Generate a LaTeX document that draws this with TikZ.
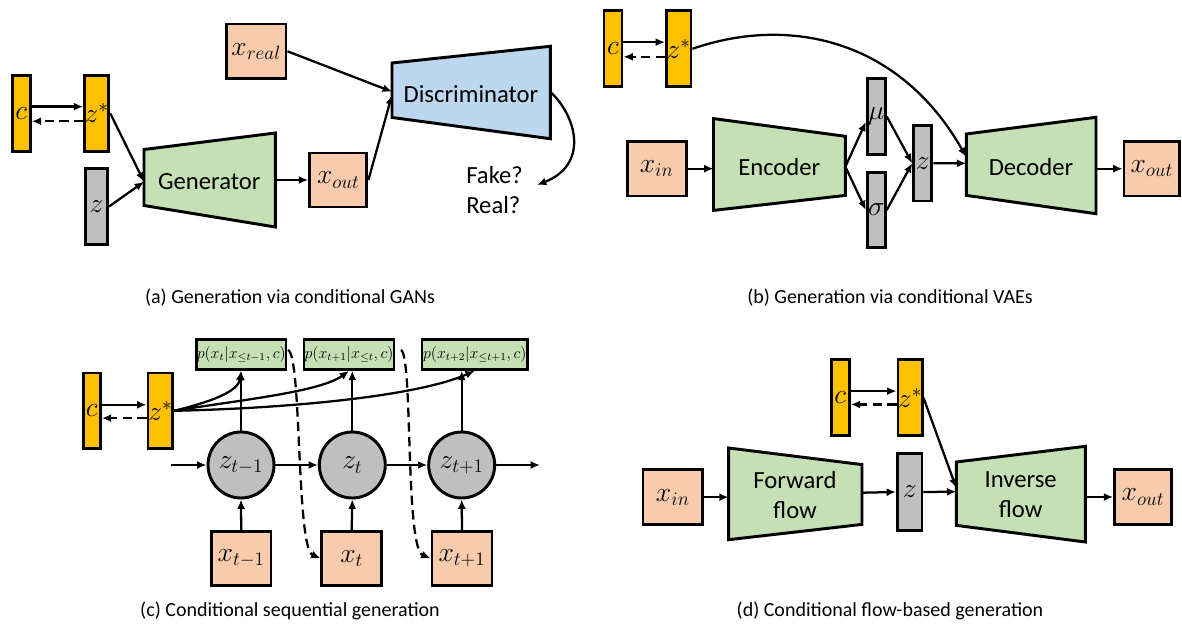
\documentclass[tikz,border=0pt]{standalone}
\usepackage{fontspec}
\setmainfont{Carlito}
\usetikzlibrary{arrows.meta,calc}
\newdimen\pxu \pxu=0.75pt
\definecolor{gold}{HTML}{FFC000}
\definecolor{peach}{HTML}{F8CBAD}
\definecolor{lgreen}{HTML}{C5E0B4}
\definecolor{lblue}{HTML}{BDD7EE}
\definecolor{lgray}{HTML}{BFBFBF}
\tikzset{
  bx/.style={draw=black, line width=2.2pt, inner sep=0pt, font=\fontsize{21}{24}\selectfont},
  wd/.style={minimum width=#1\pxu},
  ht/.style={minimum height=#1\pxu},
  goldb/.style={bx, fill=gold},
  grayb/.style={bx, fill=lgray},
  peachb/.style={bx, fill=peach},
  pbox/.style={bx, fill=lgreen, font=\fontsize{12}{14}\selectfont},
  circ/.style={circle, draw=black, line width=2.2pt, fill=lgray, minimum size=66\pxu, inner sep=0pt, font=\fontsize{22}{24}\selectfont},
  bigx/.style={bx, fill=peach, font=\fontsize{22}{24}\selectfont},
  tz/.style={draw=black, line width=2.2pt, line join=miter},
  lbl/.style={font=\fontsize{18.5}{22.5}\selectfont, align=center, inner sep=0pt},
  captxt/.style={font=\fontsize{15}{17}\selectfont, inner sep=0pt},
  arr/.style={line width=1.7pt, -{Latex[length=7pt,width=6pt]}},
  darr/.style={arr, dash pattern=on 7pt off 4pt},
}
\begin{document}
\begin{tikzpicture}[x=0.75pt,y=-0.75pt]
\useasboundingbox (0,0) rectangle (1182,631);

%%%%%%%% (a)
\node[goldb, wd=18.3, ht=76] (ac) at (21.2,113.3) {$c$};
\node[goldb, wd=22.6, ht=76] (azs) at (96.7,113.3) {$z^*$};
\node[grayb, wd=22.3, ht=76.3] (az) at (96.5,206.5) {$z$};
\node[peachb, wd=57.3, ht=54] (axout) at (338.3,180) {$x_{out}$};
\node[peachb, wd=59.6, ht=54.6] (axreal) at (256.2,51.3) {$x_{real}$};
\draw[tz, fill=lgreen] (144,149.5) -- (275.3,133) -- (275.3,227) -- (144,205.5) -- cycle;
\node[lbl] (gen) at (209.3,181.7) {Generator};
\draw[tz, fill=lblue] (392,63) -- (550.3,46.3) -- (550.3,138.7) -- (392,117.5) -- cycle;
\node[lbl] (disc) at (471,94) {Discriminator};
\node[lbl, align=left, anchor=west] (fr) at (466,190) {Fake?\\Real?};
\coordinate (genL) at (144,181.7);
\coordinate (genR) at (275.3,180);
\coordinate (discL1) at (392,91.7);
\coordinate (discL2) at (392,95);
\coordinate (discR) at (550.3,91.7);
\coordinate (frT) at (537,185);
\draw[arr] ([yshift=5pt]ac.east) -- ([yshift=5pt]azs.west);
\draw[darr] ([yshift=-6pt]azs.west) -- ([yshift=-6pt]ac.east);
\draw[arr] (azs.east) -- (genL);
\draw[arr] (az.east) -- (genL);
\draw[arr] (genR) -- (axout.west);
\draw[arr] (axout.east) -- (discL2);
\draw[arr] (axreal.east) -- (discL1);
\draw[arr] (discR) .. controls (578,118) and (588,165) .. (frT);
\node[captxt] (capa) at (290,298) {(a) Generation via conditional GANs};

%%%%%%%% (b)
\node[goldb, wd=18, ht=76.3] (bc) at (613,48.8) {$c$};
\node[goldb, wd=24.6, ht=76.3] (bzs) at (678.7,48.8) {$z^*$};
\node[peachb, wd=59.3, ht=54.6] (bxin) at (656.7,168.7) {$x_{in}$};
\draw[tz, fill=lgreen] (713.5,118.6) -- (845.4,136.3) -- (845.4,195.4) -- (713.5,210.4) -- cycle;
\node[lbl] (enc) at (779.3,166.7) {Encoder};
\node[grayb, wd=18, ht=75.7] (bmu) at (876.3,116.5) {$\mu$};
\node[grayb, wd=18, ht=75.7] (bsig) at (876.3,210) {$\sigma$};
\node[grayb, wd=18.3, ht=75.6] (bz) at (922.8,163.2) {$z$};
\draw[tz, fill=lgreen] (966.3,134) -- (1096,117.3) -- (1096,213.7) -- (966.3,195.4) -- cycle;
\node[lbl] (dec) at (1031,166.7) {Decoder};
\node[peachb, wd=55.6, ht=54.6] (bxout) at (1151.8,168.7) {$x_{out}$};
\coordinate (encL) at (713.5,168.7);
\coordinate (encR) at (845.4,166.7);
\coordinate (decL) at (966.3,163.3);
\coordinate (decL2) at (966.3,157);
\coordinate (decR) at (1096,168.7);
\draw[arr] ([yshift=5pt]bc.east) -- ([yshift=5pt]bzs.west);
\draw[darr] ([yshift=-6pt]bzs.west) -- ([yshift=-6pt]bc.east);
\draw[arr] (bxin.east) -- (encL);
\draw[arr] (encR) -- ([yshift=-4pt]bmu.west);
\draw[arr] (encR) -- (bsig.west);
\draw[arr] (bmu.east) -- (bz.west);
\draw[arr] (bsig.east) -- (bz.west);
\draw[arr] (bz.east) -- (decL);
\draw[arr] (decR) -- (bxout.west);
\draw[arr] (bzs.east) .. controls (790,15) and (900,40) .. (decL2);
\node[captxt] (capb) at (890,298) {(b) Generation via conditional VAEs};

%%%%%%%% (c)
\node[goldb, wd=17.3, ht=75.6] (cc) at (91.7,410.8) {$c$};
\node[goldb, wd=24.6, ht=75.6] (czs) at (160.3,410.8) {$z^*$};
\node[pbox, wd=89.6, ht=29.7] (p1) at (241.2,354.5) {$p(x_t|x_{\leq t-1},c)$};
\node[pbox, wd=90, ht=29.7] (p2) at (349,354.5) {$p(x_{t+1}|x_{\leq t},c)$};
\node[pbox, wd=105.6, ht=29.7] (p3) at (474.8,354.5) {$p(x_{t+2}|x_{\leq t+1},c)$};
\node[circ] (z1) at (241,465) {$z_{t-1}$};
\node[circ] (z2) at (352.3,465) {$z_{t}$};
\node[circ] (z3) at (461.7,465) {$z_{t+1}$};
\node[bigx, wd=59.6, ht=54] (xb1) at (241.2,558.3) {$x_{t-1}$};
\node[bigx, wd=59.6, ht=54] (xb2) at (351.7,558.3) {$x_{t}$};
\node[bigx, wd=60, ht=54] (xb3) at (462,558.3) {$x_{t+1}$};
\coordinate (hin) at (170.7,465);
\coordinate (hout) at (540,465);
\coordinate (d1s) at (288,350);
\coordinate (d2s) at (401,350);
\draw[arr] ([yshift=4.5pt]cc.east) -- ([yshift=4.5pt]czs.west);
\draw[darr] ([yshift=-5.5pt]czs.west) -- ([yshift=-5.5pt]cc.east);
\draw[arr] (hin) -- (z1.west);
\draw[arr] (z1.east) -- (z2.west);
\draw[arr] (z2.east) -- (z3.west);
\draw[arr] (z3.east) -- (hout);
\draw[arr] (xb1.north) -- (z1.south);
\draw[arr] (xb2.north) -- (z2.south);
\draw[arr] (xb3.north) -- (z3.south);
\draw[arr] (z1.north) -- (z1.north |- p1.south);
\draw[arr] (z2.north) -- (z2.north |- p2.south);
\draw[arr] (z3.north) -- (z3.north |- p3.south);
\draw[arr] (czs.east) .. controls (210,402) and (238,392) .. (p1.south);
\draw[arr] (czs.east) .. controls (240,400) and (320,392) .. (p2.south);
\draw[arr] (czs.east) .. controls (300,408) and (420,395) .. (p3.south);
\draw[darr] (d1s) .. controls (302,355) and (296,548) .. (xb2.west);
\draw[darr] (d2s) .. controls (413,355) and (405,548) .. (xb3.west);
\node[captxt] (capc) at (290,611) {(c) Conditional sequential generation};

%%%%%%%% (d)
\node[goldb, wd=18, ht=76.3] (dc) at (840.3,397.8) {$c$};
\node[goldb, wd=24, ht=76.3] (dzs) at (910,397.8) {$z^*$};
\node[peachb, wd=59.6, ht=55] (dxin) at (672.8,497.2) {$x_{in}$};
\draw[tz, fill=lgreen] (728.6,448) -- (862,464.6) -- (862,524.4) -- (728.6,539.7) -- cycle;
\node[lbl] (fwd) at (795,495) {Forward\\flow};
\node[grayb, wd=24.6, ht=76.7] (dz) at (909.7,492) {$z$};
\draw[tz, fill=lgreen] (956.3,462) -- (1085.4,446.3) -- (1085.4,542) -- (956.3,525.4) -- cycle;
\node[lbl] (inv) at (1020.7,495) {Inverse\\flow};
\node[peachb, wd=56.7, ht=54.7] (dxout) at (1143,497) {$x_{out}$};
\coordinate (fwdL) at (728.6,497.2);
\coordinate (fwdR) at (862,492.7);
\coordinate (invL) at (956.3,491.7);
\coordinate (invL2) at (956.3,488);
\coordinate (invR) at (1085.4,497);
\draw[arr] ([yshift=5pt]dc.east) -- ([yshift=5pt]dzs.west);
\draw[darr] ([yshift=-5pt]dzs.west) -- ([yshift=-5pt]dc.east);
\draw[arr] (dxin.east) -- (fwdL);
\draw[arr] (fwdR) -- (dz.west);
\draw[arr] (dz.east) -- (invL);
\draw[arr] (dzs.east) -- (invL2);
\draw[arr] (invR) -- (dxout.west);
\node[captxt] (capd) at (890,611) {(d) Conditional flow-based generation};
\end{tikzpicture}
\end{document}
